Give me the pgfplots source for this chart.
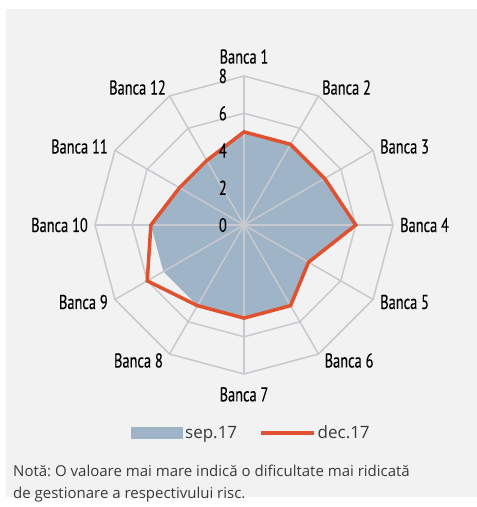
\documentclass[border=0pt]{standalone}
\usepackage{fontspec}
\setmainfont{Open Sans}
\newfontfamily\labfont[FakeStretch=0.72,FakeBold=0.2]{PT Sans}
\usepackage{pgfplots}
\pgfplotsset{compat=1.18}
\frenchspacing
\definecolor{bg}{HTML}{F2F2F2}
\definecolor{gridc}{HTML}{C8C9CE}
\definecolor{sepblue}{HTML}{A0B4C8}
\definecolor{decred}{HTML}{E0522F}
\definecolor{txt}{HTML}{3A3A3A}
\newcommand\labf{\labfont\fontsize{20}{22}\selectfont}
\newcommand\legf{\fontsize{17}{20}\selectfont}
\newcommand\notef{\fontsize{15}{22}\selectfont}
\begin{document}
\begin{tikzpicture}[x=1pt,y=1pt]
\fill[white] (0,0) rectangle (477,507);
\fill[bg] (6,10) rectangle (477,498);
\begin{axis}[at={(244pt,282pt)}, anchor=center,
  x=18.625pt, y=18.625pt, xmin=-8, xmax=8, ymin=-8, ymax=8,
  hide axis, clip=false,
  legend style={at={(0.525,-0.198)}, anchor=center, draw=none, fill=none,
    legend columns=2, font=\legf, text=txt, inner sep=0pt,
    /tikz/every even column/.append style={column sep=20pt}},
]
% rings
\pgfplotsinvokeforeach{2,4,6,8}{
\addplot[gridc, line width=1.5pt, data cs=polar, forget plot, line join=miter] coordinates {(90,#1) (60,#1) (30,#1) (0,#1) (-30,#1) (-60,#1) (-90,#1) (-120,#1) (-150,#1) (-180,#1) (-210,#1) (-240,#1) (90,#1)} -- cycle;
}
% sep.17
\addplot[fill=sepblue, draw=none, data cs=polar,
  legend image code/.code={\fill[sepblue] (0pt,-6pt) rectangle (52pt,6pt);}]
  coordinates {(90,5) (60,5) (30,5) (0,6) (-30,4) (-60,5) (-90,5) (-120,5) (-150,5) (-180,5) (-210,4) (-240,4) (90,5)} -- cycle;
\addlegendentry{sep.17}
% spokes
\pgfplotsinvokeforeach{90,60,30,0,-30,-60,-90,-120,-150,-180,-210,-240}{
\addplot[gridc, line width=1.5pt, data cs=polar, forget plot] coordinates {(#1,0) (#1,8)};
}
% dec.17
\addplot[decred, line width=3.5pt, line join=miter, data cs=polar,
  legend image code/.code={\draw[decred, line width=3.5pt] (0pt,0pt) -- (53pt,0pt);}]
  coordinates {(90,5) (60,5) (30,5) (0,6) (-30,4) (-60,5) (-90,5) (-120,5) (-150,6) (-180,5) (-210,4) (-240,4) (90,5)} -- cycle;
\addlegendentry{dec.17}
% radial labels
\pgfplotsinvokeforeach{0,2,4,6,8}{
\node[anchor=east, inner sep=0pt, font=\labf, xshift=-17pt] at (axis cs:0,#1) {#1};
}
% category labels
\node[anchor=south, inner sep=0pt, font=\labf, yshift=12pt] at (axis cs:0,8) {Banca 1};
\node[anchor=south west, inner sep=0pt, font=\labf, xshift=3.5pt, yshift=1pt] at (axis cs:{8*cos(60)},{8*sin(60)}) {Banca 2};
\node[anchor=west, inner sep=0pt, font=\labf, xshift=7pt, yshift=4pt] at (axis cs:{8*cos(30)},{8*sin(30)}) {Banca 3};
\node[anchor=west, inner sep=0pt, font=\labf, xshift=7pt] at (axis cs:8,0) {Banca 4};
\node[anchor=west, inner sep=0pt, font=\labf, xshift=7pt, yshift=-2.5pt] at (axis cs:{8*cos(-30)},{8*sin(-30)}) {Banca 5};
\node[anchor=north west, inner sep=0pt, font=\labf, xshift=6pt, yshift=1pt] at (axis cs:{8*cos(-60)},{8*sin(-60)}) {Banca 6};
\node[anchor=north, inner sep=0pt, font=\labf, yshift=-13pt] at (axis cs:0,-8) {Banca 7};
\node[anchor=north east, inner sep=0pt, font=\labf, xshift=-6.5pt, yshift=1pt] at (axis cs:{8*cos(-120)},{8*sin(-120)}) {Banca 8};
\node[anchor=east, inner sep=0pt, font=\labf, xshift=-7pt, yshift=-2.5pt] at (axis cs:{8*cos(-150)},{8*sin(-150)}) {Banca 9};
\node[anchor=east, inner sep=0pt, font=\labf, xshift=-7pt] at (axis cs:-8,0) {Banca 10};
\node[anchor=east, inner sep=0pt, font=\labf, xshift=-7pt, yshift=4pt] at (axis cs:{8*cos(150)},{8*sin(150)}) {Banca 11};
\node[anchor=south east, inner sep=0pt, font=\labf, xshift=-3.5pt, yshift=1pt] at (axis cs:{8*cos(120)},{8*sin(120)}) {Banca 12};
\end{axis}
\node[anchor=north west, align=left, inner sep=0pt, font=\notef, text=txt] at (13,42) {Notă: O valoare mai mare indică o dificultate mai ridicată\\de gestionare a respectivului risc.};
\end{tikzpicture}
\end{document}
